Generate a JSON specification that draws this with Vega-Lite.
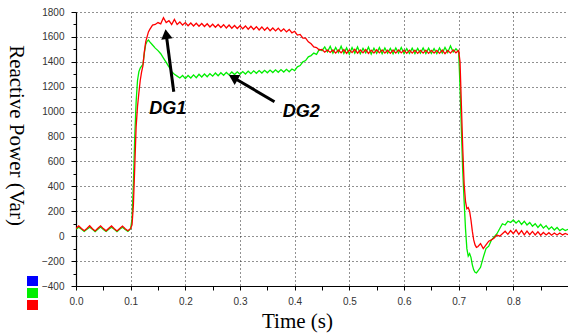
{
  "$schema": "https://vega.github.io/schema/vega-lite/v6.json",
  "width": 492,
  "height": 274,
  "autosize": {"type": "none"},
  "padding": {"left": 76, "top": 12, "right": 0, "bottom": 48},
  "background": "white",
  "config": {"view": {"stroke": null}},
  "encoding": {
    "x": {
      "field": "t", "type": "quantitative",
      "scale": {"domain": [0, 0.9], "nice": false, "zero": false},
      "axis": {
        "title": "Time (s)",
        "values": [0,0.05,0.1,0.15,0.2,0.25,0.3,0.35,0.4,0.45,0.5,0.55,0.6,0.65,0.7,0.75,0.8,0.85],
        "labelExpr": "abs(round(datum.value*20)) % 2 == 1 ? '' : format(datum.value, '.1f')",
        "labelOverlap": false,
        "grid": true,
        "gridColor": "#222",
        "gridDash": [1, 3],
        "gridOpacity": {"condition": {"test": "abs(round(datum.value*20)) % 2 == 1 || datum.value == 0", "value": 0}, "value": 1},
        "domainColor": "black",
        "domainWidth": 1.2,
        "tickColor": "black",
        "tickSize": 4,
        "labelFont": "Liberation Sans",
        "labelFontSize": 10,
        "labelColor": "#333",
        "labelPadding": 6,
        "labelFlush": false,
        "titleFont": "Liberation Serif",
        "titleFontSize": 21,
        "titleFontWeight": "normal",
        "titleColor": "black",
        "titleX": 221,
        "titleY": 41,
        "titleAlign": "center",
        "titleBaseline": "alphabetic"
      }
    },
    "y": {
      "field": "v", "type": "quantitative",
      "scale": {"domain": [-400, 1800], "nice": false, "zero": false},
      "axis": {
        "title": "Reactive Power (Var)",
        "values": [-400,-300,-200,-100,0,100,200,300,400,500,600,700,800,900,1000,1100,1200,1300,1400,1500,1600,1700,1800],
        "labelExpr": "abs(round(datum.value/100)) % 2 == 1 ? '' : format(datum.value, 'd')",
        "labelOverlap": false,
        "grid": true,
        "gridColor": "#222",
        "gridDash": [1, 3],
        "gridOpacity": {"condition": {"test": "abs(round(datum.value/100)) % 2 == 1 || datum.value == -400", "value": 0}, "value": 1},
        "domainColor": "black",
        "domainWidth": 1.2,
        "tickColor": "black",
        "tickSize": {"condition": {"test": "abs(round(datum.value/100)) % 2 == 1", "value": 3}, "value": 5},
        "labelFont": "Liberation Sans",
        "labelFontSize": 10,
        "labelColor": "#333",
        "labelPadding": 7,
        "labelFlush": false,
        "titleFont": "Liberation Serif",
        "titleFontSize": 21,
        "titleFontWeight": "normal",
        "titleColor": "black",
        "titleAngle": 90,
        "titleX": -61,
        "titleY": 123,
        "titleAlign": "center",
        "titleBaseline": "middle"
      }
    }
  },
  "layer": [
    {
      "data": {"values": [
        {"t":0.000,"DG2":55,"DG1":62},{"t":0.005,"DG2":72,"DG1":82},{"t":0.010,"DG2":55,"DG1":62},{"t":0.015,"DG2":38,"DG1":44},
        {"t":0.020,"DG2":55,"DG1":62},{"t":0.025,"DG2":72,"DG1":84},{"t":0.030,"DG2":55,"DG1":60},{"t":0.035,"DG2":37,"DG1":42},
        {"t":0.040,"DG2":55,"DG1":63},{"t":0.045,"DG2":73,"DG1":83},{"t":0.050,"DG2":54,"DG1":61},{"t":0.055,"DG2":38,"DG1":43},
        {"t":0.060,"DG2":56,"DG1":63},{"t":0.065,"DG2":72,"DG1":82},{"t":0.070,"DG2":55,"DG1":60},{"t":0.075,"DG2":37,"DG1":42},
        {"t":0.080,"DG2":55,"DG1":62},{"t":0.085,"DG2":71,"DG1":81},{"t":0.090,"DG2":54,"DG1":60},{"t":0.095,"DG2":38,"DG1":44},
        {"t":0.100,"DG2":60,"DG1":62},{"t":0.1025,"DG2":140,"DG1":90},{"t":0.105,"DG2":420,"DG1":250},{"t":0.1075,"DG2":800,"DG1":560},
        {"t":0.110,"DG2":1080,"DG1":880},{"t":0.1125,"DG2":1250,"DG1":1040},{"t":0.115,"DG2":1320,"DG1":1150},{"t":0.1175,"DG2":1350,"DG1":1250},
        {"t":0.120,"DG2":1365,"DG1":1320},{"t":0.1225,"DG2":1380,"DG1":1370},{"t":0.125,"DG2":1470,"DG1":1480},{"t":0.1275,"DG2":1540,"DG1":1560},
        {"t":0.130,"DG2":1565,"DG1":1600},{"t":0.1325,"DG2":1575,"DG1":1640},{"t":0.135,"DG2":1560,"DG1":1660},{"t":0.140,"DG2":1535,"DG1":1695},
        {"t":0.145,"DG2":1510,"DG1":1700},{"t":0.150,"DG2":1490,"DG1":1715},{"t":0.155,"DG2":1465,"DG1":1705},{"t":0.160,"DG2":1430,"DG1":1755},
        {"t":0.165,"DG2":1395,"DG1":1715},{"t":0.170,"DG2":1360,"DG1":1730},{"t":0.175,"DG2":1320,"DG1":1700},{"t":0.180,"DG2":1300,"DG1":1740},
        {"t":0.185,"DG2":1285,"DG1":1700},{"t":0.190,"DG2":1270,"DG1":1720},{"t":0.195,"DG2":1290,"DG1":1695},{"t":0.200,"DG2":1265,"DG1":1715},
        {"t":0.205,"DG2":1290,"DG1":1690},{"t":0.210,"DG2":1270,"DG1":1712},{"t":0.215,"DG2":1295,"DG1":1688},{"t":0.220,"DG2":1272,"DG1":1710},
        {"t":0.225,"DG2":1300,"DG1":1686},{"t":0.230,"DG2":1278,"DG1":1708},{"t":0.235,"DG2":1302,"DG1":1684},{"t":0.240,"DG2":1280,"DG1":1706},
        {"t":0.245,"DG2":1305,"DG1":1680},{"t":0.250,"DG2":1285,"DG1":1702},{"t":0.255,"DG2":1310,"DG1":1678},{"t":0.260,"DG2":1288,"DG1":1700},
        {"t":0.265,"DG2":1312,"DG1":1676},{"t":0.270,"DG2":1292,"DG1":1698},{"t":0.275,"DG2":1315,"DG1":1672},{"t":0.280,"DG2":1295,"DG1":1695},
        {"t":0.285,"DG2":1318,"DG1":1670},{"t":0.290,"DG2":1298,"DG1":1692},{"t":0.295,"DG2":1320,"DG1":1668},{"t":0.300,"DG2":1300,"DG1":1690},
        {"t":0.305,"DG2":1322,"DG1":1665},{"t":0.310,"DG2":1302,"DG1":1688},{"t":0.315,"DG2":1325,"DG1":1662},{"t":0.320,"DG2":1305,"DG1":1685},
        {"t":0.325,"DG2":1328,"DG1":1660},{"t":0.330,"DG2":1308,"DG1":1682},{"t":0.335,"DG2":1330,"DG1":1656},{"t":0.340,"DG2":1310,"DG1":1680},
        {"t":0.345,"DG2":1332,"DG1":1654},{"t":0.350,"DG2":1312,"DG1":1676},{"t":0.355,"DG2":1334,"DG1":1650},{"t":0.360,"DG2":1314,"DG1":1672},
        {"t":0.365,"DG2":1336,"DG1":1648},{"t":0.370,"DG2":1316,"DG1":1670},{"t":0.375,"DG2":1338,"DG1":1645},{"t":0.380,"DG2":1318,"DG1":1665},
        {"t":0.385,"DG2":1340,"DG1":1640},{"t":0.390,"DG2":1320,"DG1":1660},{"t":0.395,"DG2":1342,"DG1":1632},{"t":0.400,"DG2":1330,"DG1":1645},
        {"t":0.405,"DG2":1360,"DG1":1615},{"t":0.410,"DG2":1370,"DG1":1620},{"t":0.415,"DG2":1400,"DG1":1590},{"t":0.420,"DG2":1410,"DG1":1590},
        {"t":0.425,"DG2":1440,"DG1":1560},{"t":0.430,"DG2":1450,"DG1":1545},{"t":0.435,"DG2":1470,"DG1":1520},{"t":0.440,"DG2":1460,"DG1":1515},
        {"t":0.445,"DG2":1500,"DG1":1495},{"t":0.450,"DG2":1490,"DG1":1500},{"t":0.455,"DG2":1520,"DG1":1478},{"t":0.460,"DG2":1480,"DG1":1495},
        {"t":0.465,"DG2":1525,"DG1":1475},{"t":0.470,"DG2":1470,"DG1":1495},{"t":0.475,"DG2":1515,"DG1":1470},{"t":0.480,"DG2":1475,"DG1":1495},
        {"t":0.485,"DG2":1525,"DG1":1472},{"t":0.490,"DG2":1468,"DG1":1498},{"t":0.495,"DG2":1512,"DG1":1468},{"t":0.500,"DG2":1462,"DG1":1496},
        {"t":0.505,"DG2":1515,"DG1":1474},{"t":0.510,"DG2":1470,"DG1":1500},{"t":0.515,"DG2":1520,"DG1":1470},{"t":0.520,"DG2":1465,"DG1":1495},
        {"t":0.525,"DG2":1508,"DG1":1472},{"t":0.530,"DG2":1472,"DG1":1498},{"t":0.535,"DG2":1518,"DG1":1468},{"t":0.540,"DG2":1462,"DG1":1494},
        {"t":0.545,"DG2":1510,"DG1":1470},{"t":0.550,"DG2":1468,"DG1":1497},{"t":0.555,"DG2":1514,"DG1":1472},{"t":0.560,"DG2":1466,"DG1":1496},
        {"t":0.565,"DG2":1512,"DG1":1470},{"t":0.570,"DG2":1470,"DG1":1493},{"t":0.575,"DG2":1508,"DG1":1468},{"t":0.580,"DG2":1464,"DG1":1495},
        {"t":0.585,"DG2":1512,"DG1":1470},{"t":0.590,"DG2":1470,"DG1":1496},{"t":0.595,"DG2":1515,"DG1":1472},{"t":0.600,"DG2":1466,"DG1":1494},
        {"t":0.605,"DG2":1506,"DG1":1468},{"t":0.610,"DG2":1468,"DG1":1494},{"t":0.615,"DG2":1510,"DG1":1470},{"t":0.620,"DG2":1466,"DG1":1494},
        {"t":0.625,"DG2":1508,"DG1":1468},{"t":0.630,"DG2":1470,"DG1":1492},{"t":0.635,"DG2":1512,"DG1":1470},{"t":0.640,"DG2":1466,"DG1":1494},
        {"t":0.645,"DG2":1510,"DG1":1468},{"t":0.650,"DG2":1468,"DG1":1492},{"t":0.655,"DG2":1506,"DG1":1470},{"t":0.660,"DG2":1466,"DG1":1492},
        {"t":0.665,"DG2":1512,"DG1":1468},{"t":0.670,"DG2":1470,"DG1":1494},{"t":0.675,"DG2":1515,"DG1":1466},{"t":0.680,"DG2":1475,"DG1":1492},
        {"t":0.685,"DG2":1528,"DG1":1470},{"t":0.690,"DG2":1478,"DG1":1496},{"t":0.695,"DG2":1505,"DG1":1472},{"t":0.700,"DG2":1480,"DG1":1490},
        {"t":0.7025,"DG2":1200,"DG1":1400},{"t":0.705,"DG2":850,"DG1":1050},{"t":0.7075,"DG2":520,"DG1":700},{"t":0.710,"DG2":280,"DG1":420},
        {"t":0.7125,"DG2":60,"DG1":280},{"t":0.715,"DG2":-100,"DG1":220},{"t":0.7175,"DG2":-160,"DG1":230},{"t":0.720,"DG2":-140,"DG1":200},
        {"t":0.7225,"DG2":-170,"DG1":130},{"t":0.725,"DG2":-230,"DG1":40},{"t":0.7275,"DG2":-270,"DG1":-30},{"t":0.730,"DG2":-290,"DG1":-70},
        {"t":0.7325,"DG2":-295,"DG1":-90},{"t":0.735,"DG2":-280,"DG1":-85},{"t":0.740,"DG2":-250,"DG1":-60},{"t":0.745,"DG2":-170,"DG1":-100},
        {"t":0.750,"DG2":-100,"DG1":-70},{"t":0.755,"DG2":-80,"DG1":-40},{"t":0.760,"DG2":-30,"DG1":-30},{"t":0.765,"DG2":-5,"DG1":-15},
        {"t":0.770,"DG2":20,"DG1":10},{"t":0.775,"DG2":60,"DG1":0},{"t":0.780,"DG2":100,"DG1":20},{"t":0.785,"DG2":90,"DG1":40},
        {"t":0.790,"DG2":120,"DG1":15},{"t":0.795,"DG2":110,"DG1":45},{"t":0.800,"DG2":130,"DG1":20},{"t":0.805,"DG2":105,"DG1":50},
        {"t":0.810,"DG2":125,"DG1":15},{"t":0.815,"DG2":95,"DG1":45},{"t":0.820,"DG2":120,"DG1":10},{"t":0.825,"DG2":90,"DG1":40},
        {"t":0.830,"DG2":110,"DG1":12},{"t":0.835,"DG2":80,"DG1":38},{"t":0.840,"DG2":100,"DG1":10},{"t":0.845,"DG2":70,"DG1":35},
        {"t":0.850,"DG2":95,"DG1":8},{"t":0.855,"DG2":65,"DG1":30},{"t":0.860,"DG2":85,"DG1":10},{"t":0.865,"DG2":55,"DG1":28},
        {"t":0.870,"DG2":75,"DG1":8},{"t":0.875,"DG2":50,"DG1":25},{"t":0.880,"DG2":70,"DG1":10},{"t":0.885,"DG2":45,"DG1":25},
        {"t":0.890,"DG2":60,"DG1":10},{"t":0.895,"DG2":45,"DG1":22},{"t":0.900,"DG2":55,"DG1":12}
      ]},
      "transform": [{"fold": ["DG2", "DG1"], "as": ["s", "v"]}],
      "mark": {"type": "line", "strokeWidth": 1.3, "clip": true},
      "encoding": {
        "color": {
          "field": "s", "type": "nominal",
          "scale": {"domain": ["Blue", "DG2", "DG1"], "range": ["#0000ff", "#00ee00", "#ff0000"]},
          "legend": {
            "title": null,
            "orient": "none",
            "legendX": -49,
            "legendY": 264,
            "symbolType": "square",
            "symbolSize": 100,
            "symbolStrokeWidth": 1,
            "labelExpr": "''",
            "labelFontSize": 1,
            "labelLimit": 1,
            "clipHeight": 10,
            "rowPadding": 2,
            "padding": 0,
            "encode": {"symbols": {"update": {"fill": {"scale": "color", "field": "value"}, "fillOpacity": {"value": 1}, "stroke": {"value": "#aaaaaa"}, "strokeWidth": {"value": 1}}}}
          }
        },
        "order": {"field": "s", "sort": "descending"}
      }
    },
    {
      "data": {"values": [
        {"t": 0.1788, "v": 1160, "t2": 0.1650, "v2": 1622},
        {"t": 0.3631, "v": 1080, "t2": 0.2876, "v2": 1274}
      ]},
      "mark": {"type": "rule", "color": "black", "strokeWidth": 3},
      "encoding": {
        "x2": {"field": "t2"},
        "y2": {"field": "v2"}
      }
    },
    {
      "data": {"values": [{"t": 0.1650, "v": 1622}]},
      "mark": {"type": "point", "shape": "triangle-up", "filled": true, "color": "black", "opacity": 1, "size": 130, "angle": 352},
      "encoding": {}
    },
    {
      "data": {"values": [{"t": 0.2876, "v": 1274}]},
      "mark": {"type": "point", "shape": "triangle-up", "filled": true, "color": "black", "opacity": 1, "size": 130, "angle": 300},
      "encoding": {}
    },
    {
      "data": {"values": [
        {"t": 0.168, "v": 1021, "label": "DG1"},
        {"t": 0.412, "v": 999, "label": "DG2"}
      ]},
      "mark": {"type": "text", "font": "Liberation Sans", "fontSize": 18, "fontWeight": "bold", "fontStyle": "italic", "color": "black", "align": "center", "baseline": "middle"},
      "encoding": {
        "text": {"field": "label"}
      }
    }
  ]
}
